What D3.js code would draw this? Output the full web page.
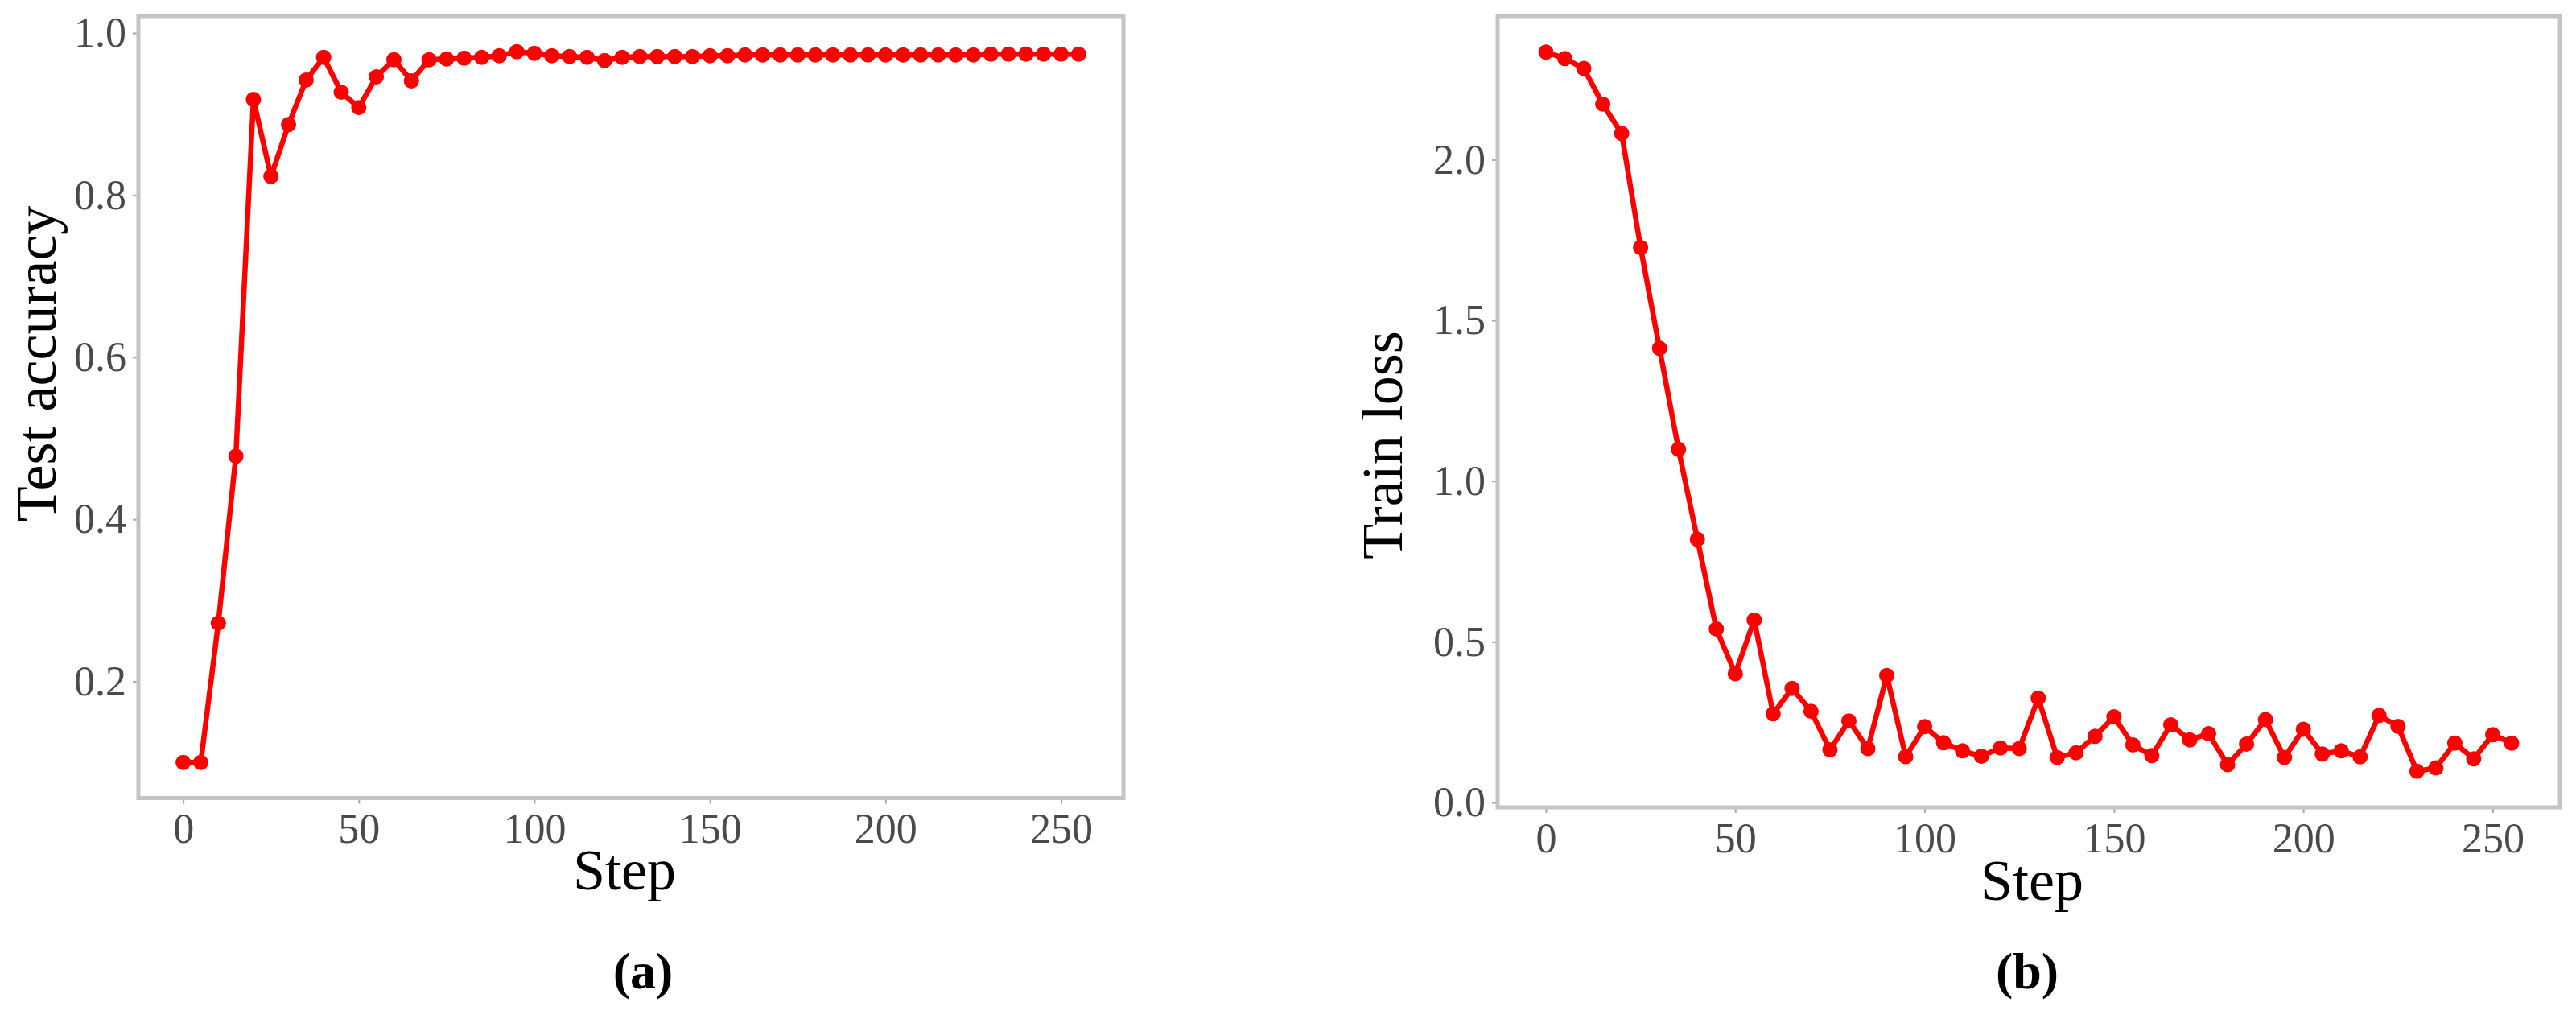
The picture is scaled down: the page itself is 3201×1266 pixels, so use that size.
<!DOCTYPE html>
<html>
<head>
<meta charset="utf-8">
<script src="https://cdn.jsdelivr.net/npm/d3@7"></script>
<style>
  html, body { margin: 0; padding: 0; background: #fff; }
  svg { display: block; }
</style>
</head>
<body>
<svg id="chart" width="3201" height="1266"></svg>
<script>
// ---------------- data ----------------
const steps = d3.range(0, 256, 5); // 0,5,...,255
const testAccuracy = [0.100, 0.100, 0.272, 0.478, 0.918, 0.823, 0.887, 0.942, 0.970, 0.927,
  0.908, 0.946, 0.967, 0.941, 0.967, 0.968, 0.969, 0.970, 0.972, 0.977,
  0.975, 0.972, 0.971, 0.970, 0.966, 0.970, 0.971, 0.971, 0.971, 0.971,
  0.972, 0.972, 0.973, 0.973, 0.973, 0.973, 0.973, 0.973, 0.973, 0.973,
  0.973, 0.973, 0.973, 0.973, 0.973, 0.973, 0.974, 0.974, 0.974, 0.974,
  0.974, 0.974];
const trainLoss = [2.335, 2.315, 2.284, 2.173, 2.082, 1.727, 1.413, 1.099, 0.819, 0.540,
  0.401, 0.568, 0.276, 0.355, 0.284, 0.164, 0.254, 0.168, 0.395, 0.143,
  0.236, 0.186, 0.161, 0.144, 0.170, 0.168, 0.325, 0.140, 0.155, 0.206,
  0.267, 0.179, 0.146, 0.242, 0.195, 0.214, 0.118, 0.182, 0.258, 0.140,
  0.228, 0.151, 0.161, 0.142, 0.271, 0.237, 0.097, 0.108, 0.185, 0.136,
  0.211, 0.185];
const xTicks = [0, 50, 100, 150, 200, 250];
const accTicks = [0.2, 0.4, 0.6, 0.8, 1.0];
const lossTicks = [0.0, 0.5, 1.0, 1.5, 2.0];
const xLabel = "Step";
const accLabel = "Test accuracy";
const lossLabel = "Train loss";
const panelLabels = ["(a)", "(b)"];

// ---------------- drawing ----------------
const svg = d3.select("#chart");
svg.append("rect").attr("width", 3201).attr("height", 1266).attr("fill", "#fff");

function padded(ext) {
  const m = (ext[1] - ext[0]) * 0.05;
  return [ext[0] - m, ext[1] + m];
}

function panel(cfg) {
  const { left, right, top, bottom, values, yTicks, yLabel, yLabelX, yLabelY, xLabelX, xLabelY, tag, tagX } = cfg;
  const x = d3.scaleLinear().domain(padded(d3.extent(steps))).range([left, right]);
  const y = d3.scaleLinear().domain(padded(d3.extent(values))).range([bottom, top]);
  const g = svg.append("g");

  const tickFont = "'Liberation Serif', 'Times New Roman', serif";

  const xa = g.append("g").attr("transform", `translate(0,${bottom})`)
    .call(d3.axisBottom(x).tickValues(xTicks).tickFormat(d3.format("d")).tickSize(7).tickPadding(12).tickSizeOuter(0));
  const ya = g.append("g").attr("transform", `translate(${left},0)`)
    .call(d3.axisLeft(y).tickValues(yTicks).tickFormat(d3.format(".1f")).tickSize(7).tickPadding(8).tickSizeOuter(0));
  [xa, ya].forEach(a => {
    a.select(".domain").remove();
    a.selectAll(".tick line").attr("stroke", "#a8a8a8").attr("stroke-width", 2);
    a.selectAll(".tick text").attr("fill", "#4a4a4a").style("font-family", tickFont).style("font-size", "52px");
  });

  // frame
  g.append("rect").attr("x", left).attr("y", top).attr("width", right - left).attr("height", bottom - top)
    .attr("fill", "none").attr("stroke", "#c4c4c4").attr("stroke-width", 5);

  const line = d3.line().x((d, i) => x(steps[i])).y(d => y(d));
  g.append("path").datum(values).attr("d", line).attr("fill", "none")
    .attr("stroke", "#ff0000").attr("stroke-width", 6.5).attr("stroke-linejoin", "round");
  g.selectAll("circle.pt").data(values).join("circle").attr("class", "pt")
    .attr("cx", (d, i) => x(steps[i])).attr("cy", d => y(d)).attr("r", 9.5).attr("fill", "#ff0000");

  // labels
  g.append("text").attr("transform", `translate(${yLabelX},${yLabelY}) rotate(-90)`)
    .attr("text-anchor", "middle").style("font-family", tickFont).style("font-size", "72px").attr("fill", "#000")
    .text(yLabel);
  g.append("text").attr("x", xLabelX).attr("y", xLabelY).attr("text-anchor", "middle")
    .style("font-family", tickFont).style("font-size", "72px").attr("fill", "#000").text(xLabel);
  g.append("text").attr("x", tagX).attr("y", 1228).attr("text-anchor", "middle")
    .style("font-family", tickFont).style("font-size", "64px").style("font-weight", "bold").attr("fill", "#000").text(tag);
}

panel({ left: 172, right: 1396, top: 20, bottom: 991.5, values: testAccuracy, yTicks: accTicks,
  yLabel: accLabel, yLabelX: 69, yLabelY: 452, xLabelX: 776, xLabelY: 1105, tag: panelLabels[0], tagX: 799 });
panel({ left: 1861, right: 3181, top: 20, bottom: 1003, values: trainLoss, yTicks: lossTicks,
  yLabel: lossLabel, yLabelX: 1742, yLabelY: 553, xLabelX: 2525, xLabelY: 1118, tag: panelLabels[1], tagX: 2519 });
</script>
</body>
</html>
